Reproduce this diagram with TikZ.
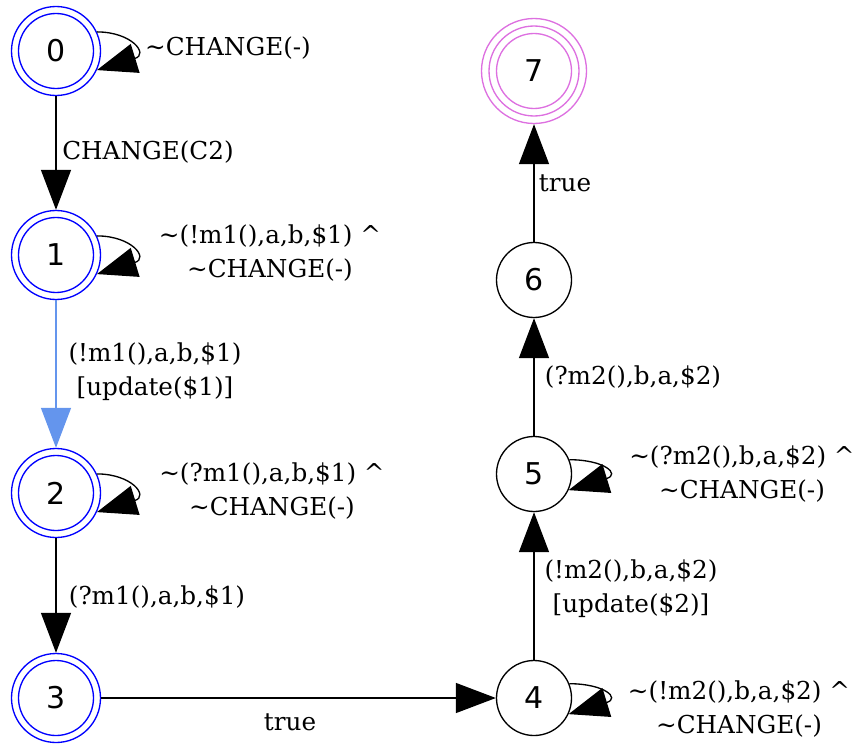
\documentclass[tikz,border=0pt]{standalone}
\usepackage{fontspec}
\setmainfont{DejaVu Serif}
\newfontfamily\statefont{DejaVu Sans}
\usepackage{tikz}
\usetikzlibrary{arrows.meta}
\definecolor{cornflower}{HTML}{6495ED}
\definecolor{finalpink}{HTML}{DD70E0}
\tikzset{st/.style={circle, draw, line width=1pt, minimum size=56.25pt, inner sep=0pt,
            font=\statefont\fontsize{22.5}{27}\selectfont},
         acc/.style={st, draw=blue, minimum size=66.75pt,
            path picture={\draw[blue, line width=1pt] (path picture bounding box.center) circle (28.125pt);}},
         fin/.style={st, draw=finalpink, minimum size=78.75pt,
            path picture={\draw[finalpink, line width=1pt] (path picture bounding box.center) circle (33.75pt) circle (28.125pt);}},
         trans/.style={-{Triangle[length=30pt, width=22.5pt]}, line width=1pt},
         selfloop/.style={trans, out=0, in=17, out distance=26pt, in distance=41pt},
         lbl/.style={font=\fontsize{18.5}{25.5}\selectfont, align=center, inner sep=0pt}
}

\begin{document}
\begin{tikzpicture}[x=0.75pt, y=-0.75pt]
      \useasboundingbox (0,0) rectangle (855,745);
      \node[acc] (q0) at (56,51) {0};
      \node[acc] (q1) at (56,255) {1};
      \node[acc] (q2) at (56,493) {2};
      \node[acc] (q3) at (56,698) {3};
      \node[st] (q4) at (534,698) {4};
      \node[st] (q5) at (534,474) {5};
      \node[st] (q6) at (534,280) {6};
      \node[fin] (q7) at (534,71) {7};
      \draw[selfloop] (q0.25) to (q0.-25);
      \draw[trans] (q0) -- (q1);
      \draw[selfloop] (q1.25) to (q1.-25);
      \draw[trans, cornflower] (q1) -- (q2);
      \draw[selfloop] (q2.25) to (q2.-25);
      \draw[trans] (q2) -- (q3);
      \draw[trans] (q3) -- (q4);
      \draw[selfloop] (q4.22) to (q4.-25);
      \draw[trans] (q4) -- (q5);
      \draw[selfloop] (q5.22) to (q5.-25);
      \draw[trans] (q5) -- (q6);
      \draw[trans] (q6) -- (q7);
      \node[lbl] (l00) at (228,48) {\textasciitilde CHANGE(-)};
      \node[lbl] (l01) at (148,152) {CHANGE(C2)};
      \node[lbl] (l11) at (270,253) {\textasciitilde(!m1(),a,b,\$1) \textasciicircum\\\textasciitilde CHANGE(-)};
      \node[lbl] (l12) at (155,372) {(!m1(),a,b,\$1)\\{}[update(\$1)]};
      \node[lbl] (l22) at (272,491) {\textasciitilde(?m1(),a,b,\$1) \textasciicircum\\\textasciitilde CHANGE(-)};
      \node[lbl] (l23) at (157,597) {(?m1(),a,b,\$1)};
      \node[lbl] (l34) at (290,722) {true};
      \node[lbl] (l44) at (739,709) {\textasciitilde(!m2(),b,a,\$2) \textasciicircum\\\textasciitilde CHANGE(-)};
      \node[lbl] (l45) at (631,589) {(!m2(),b,a,\$2)\\{}[update(\$2)]};
      \node[lbl] (l55) at (742,474) {\textasciitilde(?m2(),b,a,\$2) \textasciicircum\\\textasciitilde CHANGE(-)};
      \node[lbl] (l56) at (633,377) {(?m2(),b,a,\$2)};
      \node[lbl] (l67) at (565,183) {true};
    \end{tikzpicture}
\end{document}
